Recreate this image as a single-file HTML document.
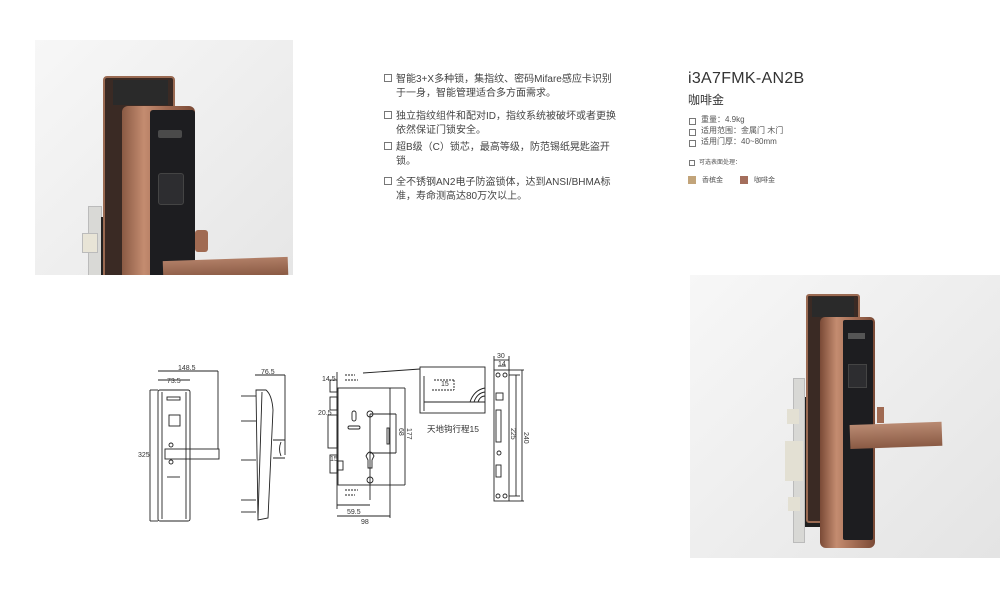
<!DOCTYPE html>
<html><head><meta charset="utf-8"><style>
body{margin:0;width:1000px;height:600px;background:#fff;position:relative;overflow:hidden;font-family:"Liberation Sans","Noto Sans CJK SC",sans-serif;color:#333}
.a{position:absolute}
.t{font-size:10px;line-height:14px;color:#444}
.cb{position:absolute;width:6px;height:6px;border:1px solid #777;background:#fff}
</style></head><body>

<!-- top-left photo -->
<div class="a" style="left:35px;top:40px;width:258px;height:235px;background:linear-gradient(135deg,#f7f7f7,#e6e6e6);overflow:hidden">
 <div class="a" style="left:53px;top:166px;width:12px;height:80px;background:#d9d9d6;border:1px solid #bbb"></div>
 <div class="a" style="left:47px;top:193px;width:14px;height:18px;background:#e8e4d6;border:1px solid #bbb"></div>
 <div class="a" style="left:66px;top:177px;width:20px;height:60px;background:#222"></div>
 <div class="a" style="left:68px;top:36px;width:68px;height:200px;background:#3a2a24;border:2px solid #9a6a52;border-radius:4px"></div>
 <div class="a" style="left:78px;top:40px;width:55px;height:25px;background:#2a2a2a"></div>
 <div class="a" style="left:87px;top:66px;width:73px;height:175px;background:linear-gradient(90deg,#8a5a44,#c48c70 30%,#a06a52 60%,#7a4a36);border-radius:6px 6px 0 0"></div>
 <div class="a" style="left:115px;top:70px;width:45px;height:170px;background:#1d1d20;border-radius:3px"></div>
 <div class="a" style="left:123px;top:90px;width:24px;height:8px;background:#4a4a4a;border-radius:2px"></div>
 <div class="a" style="left:123px;top:133px;width:24px;height:30px;background:#2d2d30;border:1px solid #444;border-radius:3px"></div>
 <div class="a" style="left:160px;top:190px;width:13px;height:22px;background:#a06a52;border-radius:3px"></div>
 <div class="a" style="left:128px;top:219px;width:125px;height:18px;background:linear-gradient(#b07e66,#8a5a44);transform:rotate(-2deg)"></div>
</div>

<!-- features text -->
<div class="cb" style="left:384px;top:74px"></div>
<div class="a t" style="left:396px;top:73px;width:222px">智能3+X多种锁，集指纹、密码Mifare感应卡识别于一身，智能管理适合多方面需求。</div>
<div class="cb" style="left:384px;top:111px"></div>
<div class="a t" style="left:396px;top:110px;width:222px">独立指纹组件和配对ID，指纹系统被破坏或者更换依然保证门锁安全。</div>
<div class="cb" style="left:384px;top:142px"></div>
<div class="a t" style="left:396px;top:141px;width:215px">超B级（C）锁芯，最高等级，防范锡纸晃匙盗开锁。</div>
<div class="cb" style="left:384px;top:177px"></div>
<div class="a t" style="left:396px;top:176px;width:222px">全不锈钢AN2电子防盗锁体，达到ANSI/BHMA标准，寿命测高达80万次以上。</div>

<div class="a" style="left:688px;top:70px;font-size:16px;color:#333;letter-spacing:0.3px">i3A7FMK-AN2B</div>
<div class="a" style="left:688px;top:91px;font-size:12px;color:#333">咖啡金</div>
<div class="cb" style="left:689px;top:118px;width:5px;height:5px"></div><div class="a" style="left:701px;top:114px;font-size:8px;color:#555">重量：4.9kg</div>
<div class="cb" style="left:689px;top:129px;width:5px;height:5px"></div><div class="a" style="left:701px;top:125px;font-size:8px;color:#555">适用范围：金属门 木门</div>
<div class="cb" style="left:689px;top:140px;width:5px;height:5px"></div><div class="a" style="left:701px;top:136px;font-size:8px;color:#555">适用门厚：40~80mm</div>
<div class="cb" style="left:689px;top:160px;width:4px;height:4px"></div><div class="a" style="left:699px;top:157px;font-size:6px;color:#555">可选表面处理：</div>
<div class="a" style="left:688px;top:176px;width:8px;height:8px;background:#c2a47a"></div><div class="a" style="left:702px;top:175px;font-size:7px;color:#555">香槟金</div>
<div class="a" style="left:740px;top:176px;width:8px;height:8px;background:#a46e5c"></div><div class="a" style="left:754px;top:175px;font-size:7px;color:#555">咖啡金</div>

<!-- bottom-right photo -->
<div class="a" style="left:690px;top:275px;width:310px;height:283px;background:linear-gradient(135deg,#f7f7f7,#e4e4e4);overflow:hidden">
 <div class="a" style="left:103px;top:103px;width:10px;height:163px;background:#d8d8d5;border:1px solid #bbb"></div>
 <div class="a" style="left:97px;top:134px;width:12px;height:15px;background:#e3e0d3"></div>
 <div class="a" style="left:95px;top:166px;width:18px;height:40px;background:#e3e0d3"></div>
 <div class="a" style="left:98px;top:222px;width:12px;height:14px;background:#e3e0d3"></div>
 <div class="a" style="left:115px;top:122px;width:18px;height:130px;background:#1e1e1e"></div>
 <div class="a" style="left:116px;top:19px;width:50px;height:225px;background:#3a2a24;border:2px solid #9a6a52;border-radius:3px"></div>
 <div class="a" style="left:122px;top:22px;width:42px;height:20px;background:#2a2a2a"></div>
 <div class="a" style="left:130px;top:42px;width:55px;height:231px;background:linear-gradient(90deg,#7a4a36,#c48c70 30%,#a06a52 65%,#7a4a36);border-radius:5px 5px 6px 6px"></div>
 <div class="a" style="left:153px;top:45px;width:30px;height:220px;background:#1d1d20;border-radius:2px"></div>
 <div class="a" style="left:158px;top:58px;width:17px;height:6px;background:#555"></div>
 <div class="a" style="left:158px;top:89px;width:17px;height:22px;background:#2d2d30;border:1px solid #444"></div>
 <div class="a" style="left:187px;top:132px;width:7px;height:16px;background:#a06a52"></div>
 <div class="a" style="left:160px;top:150px;width:92px;height:24px;background:linear-gradient(#b98a72,#8a5a44);transform:rotate(-2deg);transform-origin:left"></div>
</div>

<!-- technical drawings -->
<svg class="a" style="left:0;top:0" width="1000" height="600" viewBox="0 0 1000 600">
<g fill="none" stroke="#222" stroke-width="0.9">
 <rect x="158" y="390" width="32" height="131" rx="2"/>
 <line x1="162" y1="392" x2="162" y2="519"/><line x1="186" y1="392" x2="186" y2="519"/>
 <rect x="167" y="397" width="13" height="3"/><rect x="169" y="415" width="11" height="11"/>
 <rect x="165" y="449" width="54" height="10"/>
 <line x1="167" y1="477" x2="180" y2="477"/><circle cx="171" cy="445" r="2"/><circle cx="171" cy="462" r="2"/>
 <line x1="158" y1="371" x2="218" y2="371"/><line x1="218" y1="371" x2="218" y2="449"/>
 <line x1="158" y1="380" x2="190" y2="380"/>
 <line x1="150" y1="390" x2="158" y2="390"/><line x1="150" y1="390" x2="150" y2="521"/><line x1="150" y1="521" x2="158" y2="521"/>
 <path d="M256 390 L266 390 Q272 395 273 410 L268 518 L258 520 Z"/>
 <line x1="262" y1="392" x2="258" y2="518"/>
 <line x1="255" y1="375" x2="285" y2="375"/><line x1="285" y1="375" x2="285" y2="455"/>
 <path d="M273 440 L285 440 M273 458 L285 458 M281 442 Q278 449 281 456"/>
 <line x1="241" y1="396" x2="256" y2="396"/><line x1="241" y1="421" x2="256" y2="421"/><line x1="241" y1="460" x2="256" y2="460"/><line x1="241" y1="500" x2="256" y2="500"/><line x1="241" y1="512" x2="256" y2="512"/>
 <line x1="337" y1="372" x2="337" y2="509"/>
 <rect x="338" y="388" width="52" height="97"/>
 <rect x="330" y="380" width="7" height="12"/><rect x="330" y="397" width="7" height="13"/>
 <rect x="328" y="415" width="9" height="33"/><rect x="330" y="455" width="7" height="18"/><rect x="337" y="461" width="6" height="9"/>
 <path d="M345 375 L355 375 M345 380 L358 380 M345 490 L358 490 M345 495 L355 495" stroke-dasharray="2 1"/>
 <rect x="352" y="411" width="4" height="10" rx="2"/><rect x="348" y="426" width="12" height="3" rx="1.5"/>
 <circle cx="370" cy="414" r="3"/><circle cx="370" cy="480" r="3"/>
 <path d="M366 456 Q370 448 374 456 L372 460 L372 468 L368 468 L368 460 Z"/>
 <line x1="370" y1="414" x2="370" y2="500"/>
 <line x1="370" y1="414" x2="396" y2="414"/><line x1="370" y1="453" x2="396" y2="453"/><line x1="396" y1="414" x2="396" y2="453"/>
 <rect x="387" y="428" width="2" height="16"/>
 <line x1="390" y1="388" x2="405" y2="388"/><line x1="390" y1="485" x2="405" y2="485"/><line x1="405" y1="388" x2="405" y2="485"/>
 <line x1="337" y1="505" x2="370" y2="505"/><line x1="337" y1="516" x2="390" y2="516"/>
 <line x1="390" y1="485" x2="390" y2="518"/>
 <line x1="363" y1="373" x2="420" y2="369"/>
 <rect x="420" y="367" width="65" height="46"/>
 <line x1="424" y1="376" x2="424" y2="411"/><line x1="424" y1="402" x2="485" y2="402"/>
 <path d="M434 380 L454 380 M432 390 L454 390 M454 380 L454 390" stroke-dasharray="2 1"/>
 <path d="M470 402 Q474 390 485 388 M474 402 Q477 393 485 392 M478 402 Q480 396 485 396"/>
 <rect x="494" y="370" width="15" height="131"/>
 <line x1="494" y1="356" x2="494" y2="370"/><line x1="509" y1="356" x2="509" y2="370"/><line x1="494" y1="360" x2="509" y2="360"/>
 <line x1="498" y1="366" x2="506" y2="366"/>
 <circle cx="498" cy="375" r="2"/><circle cx="505" cy="375" r="2"/><circle cx="498" cy="496" r="2"/><circle cx="505" cy="496" r="2"/>
 <rect x="496" y="393" width="7" height="7"/><rect x="496" y="410" width="5" height="32"/><circle cx="499" cy="453" r="2"/><rect x="496" y="465" width="5" height="12"/>
 <line x1="509" y1="375" x2="520" y2="375"/><line x1="509" y1="496" x2="520" y2="496"/><line x1="516" y1="375" x2="516" y2="496"/>
 <line x1="509" y1="370" x2="524" y2="370"/><line x1="509" y1="501" x2="524" y2="501"/><line x1="522" y1="370" x2="522" y2="501"/>
</g>
<g font-family="Liberation Sans, sans-serif" font-size="7" fill="#333">
 <text x="178" y="370">148.5</text><text x="167" y="383">73.5</text><text x="138" y="457">325</text>
 <text x="261" y="374">76.5</text>
 <text x="322" y="381">14.5</text><text x="318" y="415">20.5</text><text x="330" y="461">15</text>
 <text x="347" y="514">59.5</text><text x="361" y="524">98</text>
 <text x="441" y="386">15</text>
 <text x="497" y="358">30</text><text x="498" y="366">14</text>
 <text transform="translate(399 428) rotate(90)">68</text>
 <text transform="translate(407 428) rotate(90)">177</text>
 <text transform="translate(511 428) rotate(90)">225</text>
 <text transform="translate(524 432) rotate(90)">240</text>
</g>
<text x="427" y="432" font-family="Liberation Sans, Noto Sans CJK SC, sans-serif" font-size="8.5" fill="#333">天地钩行程15</text>
</svg>
</body></html>
